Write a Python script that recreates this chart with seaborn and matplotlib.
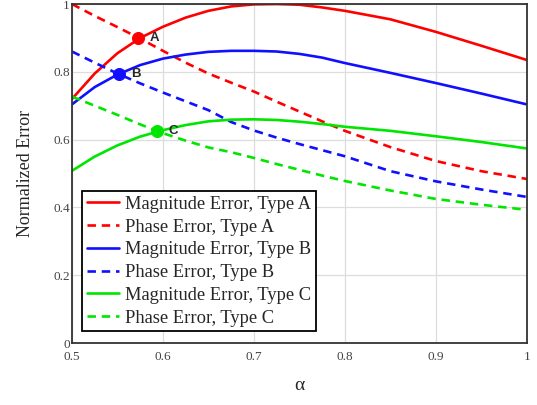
import numpy as np
import pandas as pd
import matplotlib
matplotlib.use("Agg")
import matplotlib.pyplot as plt
import seaborn as sns

# values
alpha = [0.5, 0.525, 0.55, 0.575, 0.6, 0.625, 0.65, 0.675, 0.7, 0.725, 0.75,
         0.775, 0.8, 0.85, 0.9, 0.95, 1.0]

mag_a = [0.720, 0.795, 0.855, 0.900, 0.933, 0.960, 0.980, 0.993, 0.999, 1.000, 0.998,
         0.990, 0.980, 0.955, 0.918, 0.877, 0.835]
phase_a = [1.000, 0.965, 0.932, 0.898, 0.862, 0.827, 0.795, 0.768, 0.742, 0.712, 0.683,
           0.654, 0.626, 0.578, 0.537, 0.507, 0.484]
mag_b = [0.704, 0.755, 0.792, 0.820, 0.839, 0.851, 0.859, 0.862, 0.862, 0.860, 0.853,
         0.842, 0.826, 0.797, 0.767, 0.736, 0.704]
phase_b = [0.860, 0.827, 0.795, 0.766, 0.739, 0.713, 0.687, 0.652, 0.627, 0.606, 0.587,
           0.569, 0.551, 0.507, 0.477, 0.453, 0.431]
mag_c = [0.508, 0.550, 0.583, 0.609, 0.628, 0.643, 0.654, 0.659, 0.660, 0.658, 0.653,
         0.646, 0.638, 0.626, 0.610, 0.593, 0.574]
phase_c = [0.727, 0.700, 0.673, 0.645, 0.619, 0.597, 0.577, 0.563, 0.546, 0.528, 0.511,
           0.494, 0.478, 0.450, 0.425, 0.408, 0.393]

# crossing points
pt_names = ["A", "B", "C"]
pt_x = [0.573, 0.552, 0.594]
pt_y = [0.900, 0.793, 0.625]

red, blue, green = "#ff0000", "#1010ff", "#00e600"
dash = (0, (3.2, 2.2))

series = [
    ("Magnitude Error, Type A", mag_a, red, "-"),
    ("Phase Error, Type A", phase_a, red, dash),
    ("Magnitude Error, Type B", mag_b, blue, "-"),
    ("Phase Error, Type B", phase_b, blue, dash),
    ("Magnitude Error, Type C", mag_c, green, "-"),
    ("Phase Error, Type C", phase_c, green, dash),
]

sns.set_style("whitegrid")
plt.rcParams["font.family"] = ["Liberation Serif", "DejaVu Serif"]

fig = plt.figure(figsize=(5.37, 4.05), dpi=100)
ax = fig.add_axes([0.134, 0.153, 0.847, 0.837])

for name, vals, col, ls in series:
    df = pd.DataFrame({"alpha": alpha, "err": vals})
    sns.lineplot(data=df, x="alpha", y="err", color=col, linestyle=ls,
                 linewidth=1.9, label=name, ax=ax)

pt_cols = [red, blue, green]
for n, x, y, c in zip(pt_names, pt_x, pt_y, pt_cols):
    sns.scatterplot(x=[x], y=[y], color=c, s=75, edgecolor=c, zorder=5, ax=ax)
    ax.text(x + 0.0125, y, n, fontsize=9.5, fontweight="bold",
            family=["Liberation Sans", "DejaVu Sans"],
            va="center", ha="left", zorder=6)

ax.set_xlim(0.5, 1.0)
ax.set_ylim(0, 1.0)
ax.set_xticks([0.5, 0.6, 0.7, 0.8, 0.9, 1.0])
ax.set_xticklabels(["0.5", "0.6", "0.7", "0.8", "0.9", "1"])
ax.set_yticks([0, 0.2, 0.4, 0.6, 0.8, 1.0])
ax.set_yticklabels(["0", "0.2", "0.4", "0.6", "0.8", "1"])
ax.tick_params(axis="both", labelsize=9.5, labelcolor="#444444", length=0)
ax.tick_params(axis="x", pad=6)
ax.tick_params(axis="y", pad=1.5)
ax.grid(True, color="#dddddd", linewidth=0.9)
for s in ax.spines.values():
    s.set_color("#333333")
    s.set_linewidth(1.3)

ax.set_xlabel("α", fontsize=14, labelpad=10)
ax.set_ylabel("Normalized Error", fontsize=13, labelpad=14)

leg = ax.legend(loc="lower left", bbox_to_anchor=(0.0226, 0.035), fontsize=13.3,
                frameon=True, fancybox=False, edgecolor="black", framealpha=1,
                labelspacing=0.31, handlelength=1.73, handletextpad=0.36,
                borderpad=0.25, borderaxespad=0)
leg.get_frame().set_linewidth(1.3)

plt.savefig("out.png", dpi=100)
